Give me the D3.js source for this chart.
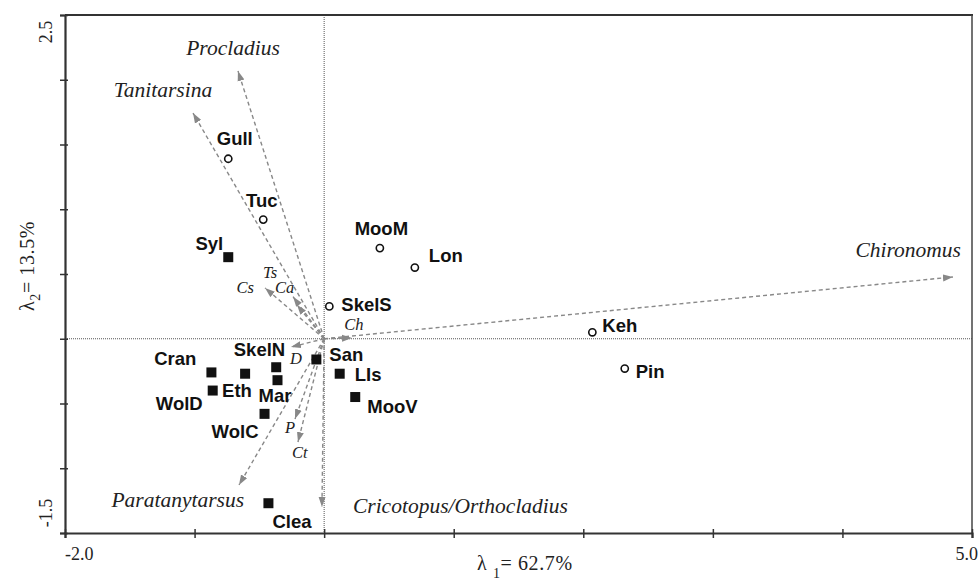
<!DOCTYPE html>
<html>
<head>
<meta charset="utf-8">
<script src="https://cdn.jsdelivr.net/npm/d3@7"></script>
<style>
  html, body { margin: 0; padding: 0; background: #fff; }
  svg { display: block; }
  .site { font-family: "Liberation Sans", Arial, sans-serif; font-weight: bold; font-size: 18.5px; fill: #111; }
  .taxon { font-family: "Liberation Serif", "Times New Roman", serif; font-style: italic; font-size: 21.5px; fill: #222; }
  .taxon-s { font-family: "Liberation Serif", "Times New Roman", serif; font-style: italic; font-size: 16.5px; fill: #222; }
  .num { font-family: "Liberation Serif", "Times New Roman", serif; font-size: 18px; fill: #222; }
</style>
</head>
<body>
<svg id="chart" width="979" height="580"></svg>
<script>
// Ordination axes: extents and percentage of variance explained
const xDomain = [-2.0, 5.0];
const yDomain = [-1.5, 2.5];
const xTicks = [-2, -1, 0, 1, 2, 3, 4, 5];
const yTicks = [-1.5, -1, -0.5, 0, 0.5, 1, 1.5, 2, 2.5];
const xTickLabels = ["-2.0", "5.0"];
const yTickLabels = ["2.5", "-1.5"];
const axis1Pct = "62.7%";
const axis2Pct = "13.5%";

// Lake sites (scores on axis 1 and 2); "open" = circle, "filled" = square
const siteNames = ["Gull", "Tuc", "MooM", "Lon", "SkelS", "Keh", "Pin",
                   "Syl", "Cran", "WolD", "Eth", "SkelN", "Mar", "WolC", "San", "LIs", "MooV", "Clea"];
const siteAxis1 = [-0.74, -0.47, 0.43, 0.70, 0.04, 2.07, 2.32,
                   -0.74, -0.87, -0.86, -0.61, -0.37, -0.36, -0.46, -0.06, 0.12, 0.24, -0.43];
const siteAxis2 = [1.39, 0.92, 0.70, 0.55, 0.25, 0.05, -0.23,
                   0.63, -0.26, -0.40, -0.27, -0.22, -0.32, -0.58, -0.16, -0.27, -0.45, -1.27];
const siteType = ["open", "open", "open", "open", "open", "open", "open",
                  "filled", "filled", "filled", "filled", "filled", "filled", "filled", "filled", "filled", "filled", "filled"];

// Chironomid taxa (biplot arrow tips)
const taxonNames = ["Procladius", "Tanitarsina", "Chironomus", "Cricotopus/Orthocladius", "Paratanytarsus",
                    "Ts", "Ca", "Cs", "Ch", "D", "P", "Ct"];
const taxonAxis1 = [-0.665, -1.012, 4.853, -0.017, -0.657, -0.240, -0.210, -0.456, 0.215, -0.256, -0.225, -0.202];
const taxonAxis2 = [2.068, 1.743, 0.477, -1.299, -1.129, 0.325, 0.262, 0.392, 0.006, -0.064, -0.620, -0.797];

// Label placement (pixel offsets from the mark, text anchor)
const siteLabelPos = {
  Gull: [6.5, -14, "middle"], Tuc: [-1.5, -13, "middle"], MooM: [1.5, -13, "middle"],
  Lon: [14, -6, "start"], SkelS: [12, 5, "start"], Keh: [10, 0, "start"], Pin: [11, 9, "start"],
  Syl: [-5, -7, "end"], Cran: [-15, -7, "end"], WolD: [-10, 19, "end"], Eth: [-23, 23, "start"],
  SkelN: [9, -11, "end"], Mar: [-19, 22, "start"], WolC: [-6, 24, "end"],
  San: [13, 2, "start"], LIs: [15, 7, "start"], MooV: [12, 16, "start"], Clea: [4, 25, "start"]
};
const taxonLabelPos = {
  "Procladius": [-5, -16, "middle", "taxon"], "Tanitarsina": [-30, -16, "middle", "taxon"],
  "Chironomus": [8, -20, "end", "taxon"], "Cricotopus/Orthocladius": [31, 6, "start", "taxon"],
  "Paratanytarsus": [5, 22, "end", "taxon"],
  Ts: [-23, -19, "middle", "taxon-s"], Ca: [-22, -12, "start", "taxon-s"], Cs: [-11, 5, "end", "taxon-s"],
  Ch: [2, -8, "middle", "taxon-s"], D: [-1, 17, "start", "taxon-s"], P: [-10, 14, "start", "taxon-s"],
  Ct: [-6, 16, "start", "taxon-s"]
};

const svg = d3.select("#chart");
const L = 65, R = 972, T = 15, B = 533;
const x = d3.scaleLinear().domain(xDomain).range([L, R]);
const y = d3.scaleLinear().domain(yDomain).range([B, T]);

// arrowhead marker
svg.append("defs").append("marker")
  .attr("id", "head")
  .attr("viewBox", "0 0 10 8")
  .attr("refX", 10).attr("refY", 4)
  .attr("markerUnits", "userSpaceOnUse")
  .attr("markerWidth", 10).attr("markerHeight", 8)
  .attr("orient", "auto")
  .append("path").attr("d", "M0,0.5 L10,4 L0,7.5 Z").attr("fill", "#888");

// zero reference lines
svg.append("line").attr("x1", L).attr("x2", R).attr("y1", y(0)).attr("y2", y(0))
  .attr("stroke", "#555").attr("stroke-width", 1).attr("stroke-dasharray", "1,1");
svg.append("line").attr("x1", x(0)).attr("x2", x(0)).attr("y1", T).attr("y2", B)
  .attr("stroke", "#555").attr("stroke-width", 1).attr("stroke-dasharray", "1,1");

// frame: top and right
svg.append("line").attr("x1", L).attr("x2", R + 1).attr("y1", T).attr("y2", T)
  .attr("stroke", "#333").attr("stroke-width", 2);
svg.append("line").attr("x1", R).attr("x2", R).attr("y1", T).attr("y2", B)
  .attr("stroke", "#444").attr("stroke-width", 1.5);

// axes with ticks crossing the line
const gx = svg.append("g").attr("transform", `translate(0,${B})`)
  .call(d3.axisBottom(x).tickValues(xTicks).tickSize(5).tickFormat(""));
const gy = svg.append("g").attr("transform", `translate(${L},0)`)
  .call(d3.axisLeft(y).tickValues(yTicks).tickSize(5).tickFormat(""));
gx.select(".domain").attr("stroke", "#333").attr("stroke-width", 2.2);
gy.select(".domain").attr("stroke", "#333").attr("stroke-width", 2.2);
gx.selectAll(".tick line").attr("y1", -4).attr("stroke", "#333").attr("stroke-width", 1.5);
gy.selectAll(".tick line").attr("x1", 3).attr("stroke", "#333").attr("stroke-width", 1.5);

// end tick labels
svg.append("text").attr("class", "num").attr("x", x(xDomain[0])).attr("y", 560)
  .attr("text-anchor", "start").text(xTickLabels[0]);
svg.append("text").attr("class", "num").attr("x", 978).attr("y", 560)
  .attr("text-anchor", "end").text(xTickLabels[1]);
svg.append("text").attr("class", "num").attr("text-anchor", "middle")
  .attr("transform", `translate(52,${y(yDomain[1]) + 17}) rotate(-90)`).text(yTickLabels[0]);
svg.append("text").attr("class", "num").attr("text-anchor", "middle")
  .attr("transform", `translate(52,${y(yDomain[0]) - 20}) rotate(-90)`).text(yTickLabels[1]);

// axis titles
const xt = svg.append("text").attr("class", "num").attr("x", 477).attr("y", 570)
  .style("font-size", "20px").style("letter-spacing", "0.6px");
xt.append("tspan").text("λ ");
xt.append("tspan").attr("dy", 8).style("font-size", "14px").text("1");
xt.append("tspan").attr("dy", -8).text("= " + axis1Pct);

const yt = svg.append("text").attr("class", "num").style("font-size", "20px").style("letter-spacing", "0.6px")
  .attr("text-anchor", "middle")
  .attr("transform", "translate(34,266) rotate(-90)");
yt.append("tspan").text("λ");
yt.append("tspan").attr("dy", 6).style("font-size", "14px").text("2");
yt.append("tspan").attr("dy", -6).text("= " + axis2Pct);

// taxon arrows
const taxa = taxonNames.map((n, i) => ({ name: n, a1: taxonAxis1[i], a2: taxonAxis2[i] }));
svg.append("g").selectAll("line").data(taxa).join("line")
  .attr("x1", x(0)).attr("y1", y(0))
  .attr("x2", d => x(d.a1)).attr("y2", d => y(d.a2))
  .attr("stroke", "#888").attr("stroke-width", 1.4)
  .attr("stroke-dasharray", "4,3")
  .attr("marker-end", "url(#head)");

svg.append("g").selectAll("text").data(taxa).join("text")
  .attr("class", d => taxonLabelPos[d.name][3])
  .attr("x", d => x(d.a1) + taxonLabelPos[d.name][0])
  .attr("y", d => y(d.a2) + taxonLabelPos[d.name][1])
  .attr("text-anchor", d => taxonLabelPos[d.name][2])
  .text(d => d.name);

// sites
const sites = siteNames.map((n, i) => ({ name: n, a1: siteAxis1[i], a2: siteAxis2[i], type: siteType[i] }));
const gs = svg.append("g");
gs.selectAll("circle").data(sites.filter(d => d.type === "open")).join("circle")
  .attr("cx", d => x(d.a1)).attr("cy", d => y(d.a2)).attr("r", 3.6)
  .attr("fill", "#fff").attr("stroke", "#111").attr("stroke-width", 1.6);
gs.selectAll("rect").data(sites.filter(d => d.type === "filled")).join("rect")
  .attr("x", d => x(d.a1) - 5).attr("y", d => y(d.a2) - 5)
  .attr("width", 10).attr("height", 10).attr("fill", "#111");

svg.append("g").selectAll("text").data(sites).join("text")
  .attr("class", "site")
  .attr("x", d => x(d.a1) + siteLabelPos[d.name][0])
  .attr("y", d => y(d.a2) + siteLabelPos[d.name][1])
  .attr("text-anchor", d => siteLabelPos[d.name][2])
  .text(d => d.name);
</script>
</body>
</html>
